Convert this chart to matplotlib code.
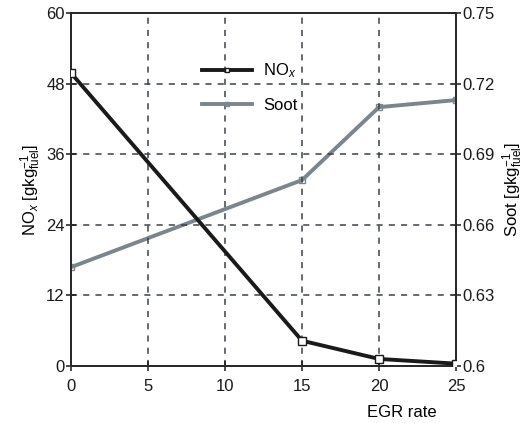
import matplotlib
matplotlib.use("Agg")
import matplotlib.pyplot as plt

plt.rcParams['font.family'] = ['Liberation Sans', 'DejaVu Sans']
plt.rcParams['mathtext.fontset'] = 'custom'
plt.rcParams['mathtext.rm'] = 'Liberation Sans'
plt.rcParams['mathtext.it'] = 'Liberation Sans:italic'

egr = [0, 15, 20, 25]
nox = [49.8, 4.3, 1.2, 0.4]
soot = [0.642, 0.679, 0.710, 0.713]

x_ticks = [0, 5, 10, 15, 20, 25]
nox_ticks = [0, 12, 24, 36, 48, 60]
soot_ticks = [0.6, 0.63, 0.66, 0.69, 0.72, 0.75]
soot_labels = ['0.6', '0.63', '0.66', '0.69', '0.72', '0.75']

fs = 12

fig = plt.figure(figsize=(5.32, 4.23), dpi=100)
ax = fig.add_axes([71/532, 57/423, 385/532, 353/423])
ax2 = ax.twinx()

grid_kw = dict(color='#3a4248', linestyle=(0, (4, 4)), linewidth=1.1)
for t in x_ticks[1:-1]:
    ax.axvline(t, **grid_kw, zorder=0)
for t in nox_ticks[1:-1]:
    ax.axhline(t, **grid_kw, zorder=0)

l2, = ax2.plot(egr, soot, color='#7b868c', linewidth=2.8, marker='s',
               markersize=5, markerfacecolor='none', markeredgecolor='#7b868c',
               label='Soot', zorder=2)
l1, = ax.plot(egr, nox, color='#1a1a1a', linewidth=2.8, marker='s',
              markersize=6, markerfacecolor='white', markeredgecolor='#1a1a1a',
              label='NO$_{\\mathit{x}}$', zorder=3)
ax.set_zorder(ax2.get_zorder() + 1)
ax.patch.set_visible(False)

ax.set_xlim(0, 25)
ax.set_ylim(0, 60)
ax2.set_ylim(0.6, 0.75)
ax.set_xticks(x_ticks)
ax.set_yticks(nox_ticks)
ax2.set_yticks(soot_ticks)
ax2.set_yticklabels(soot_labels)

for a in (ax, ax2):
    a.tick_params(direction='inout', length=7, width=1.1, labelsize=fs,
                  colors='#1a1a1a', pad=1)
    for s in a.spines.values():
        s.set_linewidth(1.4)
        s.set_color('#2a2a2a')
ax.tick_params(axis='x', pad=6)

ax.set_ylabel('NO$_{\\mathit{x}}$ [gkg$_{\\rm fuel}^{-1}$]', fontsize=fs, labelpad=2)
ax2.set_ylabel('Soot [gkg$_{\\rm fuel}^{-1}$]', fontsize=fs, labelpad=4)
ax.set_xlabel('EGR rate', fontsize=fs)
ax.xaxis.set_label_coords(0.86, -0.11)

ax.legend(handles=[l1, l2], loc='upper left', bbox_to_anchor=(0.3, 0.905),
          frameon=False, fontsize=fs, handlelength=3.0, labelspacing=1.05,
          handletextpad=0.7, markerscale=0.6)

fig.savefig('out.png', dpi=100)
